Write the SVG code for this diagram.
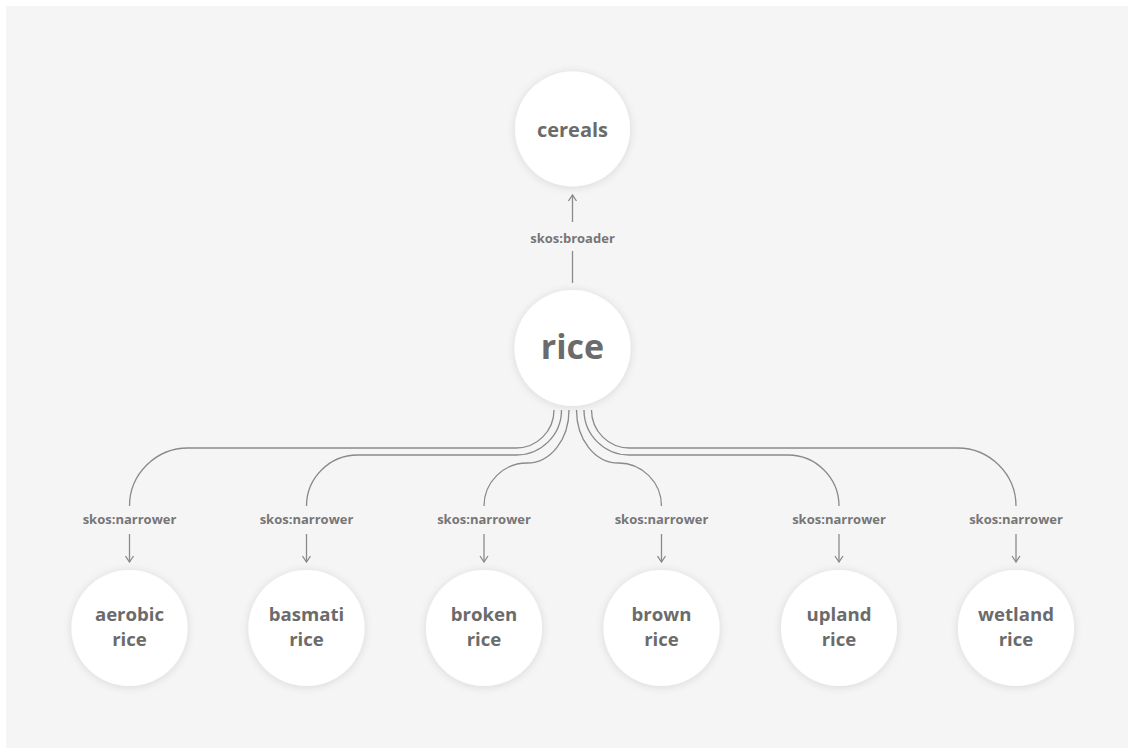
<svg xmlns="http://www.w3.org/2000/svg" width="1134" height="753" viewBox="0 0 1134 753">
  <style>
    .node circle { fill: #ffffff; filter: url(#sh); }
    .node text { font-family: "Open Sans", "Noto Sans", sans-serif; font-weight: 700; fill: #6b6b6b; text-anchor: middle; }
    .node .two { font-size: 18.6px; }
    .lbl { font-family: "Open Sans", "Noto Sans", sans-serif; font-weight: 700; font-size: 13px; fill: #767676; text-anchor: middle; }
    .edge { fill: none; stroke: #8a8a8a; stroke-width: 1.3; }
    .arr { fill: none; stroke: #8a8a8a; stroke-width: 1.3; marker-end: url(#ah); }
  </style>
  <defs>
    <filter id="sh" x="-30%" y="-30%" width="160%" height="160%">
      <feDropShadow dx="0" dy="1" stdDeviation="4" flood-color="#000" flood-opacity="0.12"/>
    </filter>
    <marker id="ah" viewBox="0 0 10 10" refX="9" refY="5" markerWidth="10" markerHeight="10" markerUnits="userSpaceOnUse" orient="auto">
      <path d="M3,1 L9,5 L3,9" fill="none" stroke="#8a8a8a" stroke-width="1.3"/>
    </marker>
  </defs>
  <rect x="0" y="0" width="1134" height="753" fill="#ffffff"/>
  <rect x="6" y="6" width="1122" height="742" fill="#f5f5f5"/>

  <g id="connectors">
    <path class="edge" d="M572.5,283 L572.5,251"/>
    <path class="arr" d="M572.5,222 L572.5,195"/>
    <text class="lbl" x="572.5" y="242.5">skos:broader</text>

    <path class="edge" d="M554,410 C554,431 537,448 516,448 L188,448 C156,448 129.5,474 129.5,506"/>
    <path class="edge" d="M561.5,410 C561.5,435 541,455 516.5,455 L357.5,455 C329.5,455 306.5,478 306.5,506"/>
    <path class="edge" d="M569,410 C569,439 551,463 527,463 C503.4,463 484,482.3 484,506"/>
    <path class="edge" d="M576.5,410 C576.5,439 594.5,463 618.5,463 C642.1,463 661.5,482.3 661.5,506"/>
    <path class="edge" d="M584,410 C584,435 604.5,455 629,455 L788,455 C816,455 839,478 839,506"/>
    <path class="edge" d="M591.5,410 C591.5,431 608.5,448 629.5,448 L957.5,448 C989.5,448 1016,474 1016,506"/>

    <path class="arr" d="M129.5,534 L129.5,562"/>
    <path class="arr" d="M306.5,534 L306.5,562"/>
    <path class="arr" d="M484,534 L484,562"/>
    <path class="arr" d="M661.5,534 L661.5,562"/>
    <path class="arr" d="M839,534 L839,562"/>
    <path class="arr" d="M1016,534 L1016,562"/>

    <text class="lbl" x="129.5" y="523.5">skos:narrower</text>
    <text class="lbl" x="306.5" y="523.5">skos:narrower</text>
    <text class="lbl" x="484" y="523.5">skos:narrower</text>
    <text class="lbl" x="661.5" y="523.5">skos:narrower</text>
    <text class="lbl" x="839" y="523.5">skos:narrower</text>
    <text class="lbl" x="1016" y="523.5">skos:narrower</text>
  </g>

  <g id="cereals" class="node">
    <circle cx="572.5" cy="129" r="57.5"/>
    <text x="572.5" y="136.5" font-size="20">cereals</text>
  </g>
  <g id="rice" class="node">
    <circle cx="572.5" cy="348" r="58"/>
    <text x="572.5" y="359" font-size="34">rice</text>
  </g>
  <g id="aerobic-rice" class="node">
    <circle cx="129.5" cy="628" r="58"/>
    <text class="two" x="129.5" y="620.5">aerobic</text>
    <text class="two" x="129.5" y="646">rice</text>
  </g>
  <g id="basmati-rice" class="node">
    <circle cx="306.5" cy="628" r="58"/>
    <text class="two" x="306.5" y="620.5">basmati</text>
    <text class="two" x="306.5" y="646">rice</text>
  </g>
  <g id="broken-rice" class="node">
    <circle cx="484" cy="628" r="58"/>
    <text class="two" x="484" y="620.5">broken</text>
    <text class="two" x="484" y="646">rice</text>
  </g>
  <g id="brown-rice" class="node">
    <circle cx="661.5" cy="628" r="58"/>
    <text class="two" x="661.5" y="620.5">brown</text>
    <text class="two" x="661.5" y="646">rice</text>
  </g>
  <g id="upland-rice" class="node">
    <circle cx="839" cy="628" r="58"/>
    <text class="two" x="839" y="620.5">upland</text>
    <text class="two" x="839" y="646">rice</text>
  </g>
  <g id="wetland-rice" class="node">
    <circle cx="1016" cy="628" r="58"/>
    <text class="two" x="1016" y="620.5">wetland</text>
    <text class="two" x="1016" y="646">rice</text>
  </g>
</svg>
